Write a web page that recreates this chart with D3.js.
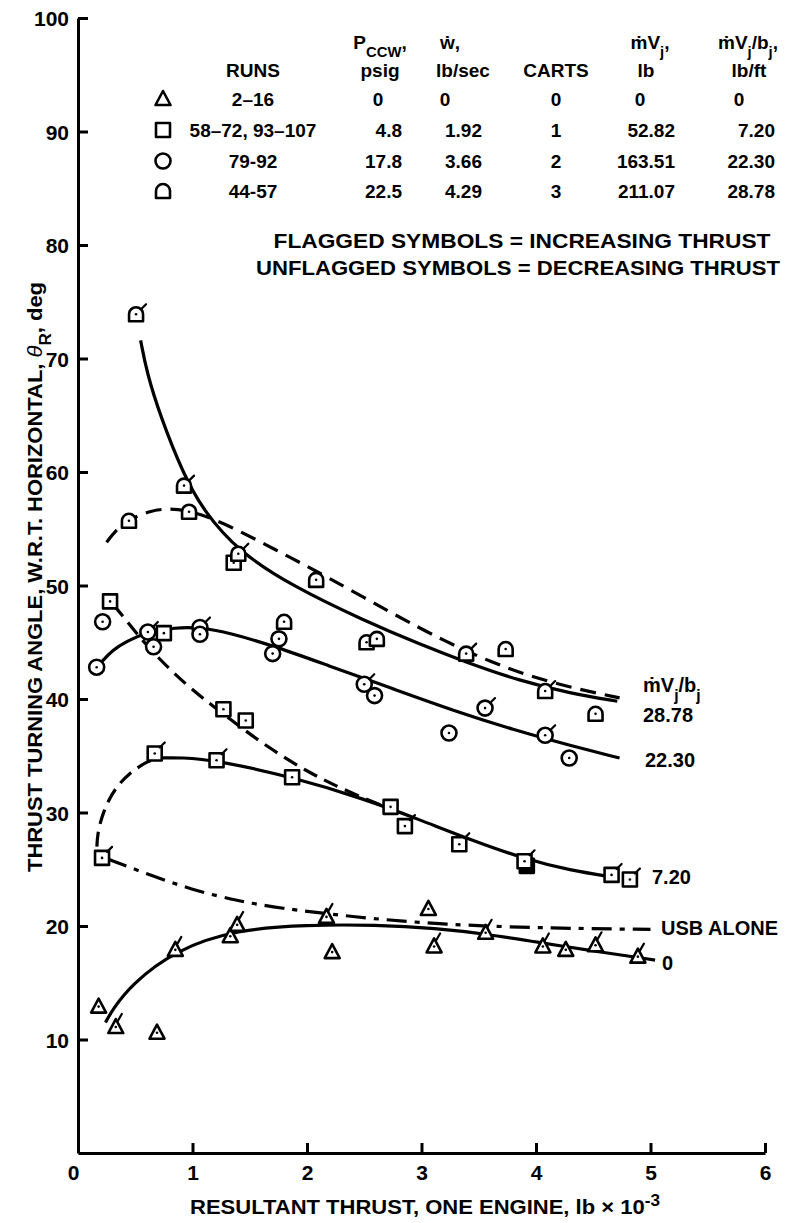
<!DOCTYPE html>
<html>
<head>
<meta charset="utf-8">
<script src="https://cdn.jsdelivr.net/npm/d3@7"></script>
<style>
  body { margin: 0; background: #fff; }
  svg { display: block; }
  text { font-family: "Liberation Sans", Arial, Helvetica, sans-serif; font-weight: bold; fill: #000; }
</style>
</head>
<body>
<svg id="chart" width="786" height="1223"></svg>
<script>
// ---- axis ticks ----
const xTicks = [0, 1, 2, 3, 4, 5, 6];
const yTicks = [10, 20, 30, 40, 50, 60, 70, 80, 90, 100];

// ---- test points: [resultant thrust (lb x 10^-3), turning angle (deg), flagged] ----
const triPts = [
  [0.18, 12.9, 0], [0.33, 11.1, 1], [0.69, 10.6, 0], [0.85, 17.9, 1], [1.33, 19.1, 0],
  [1.39, 20.1, 1], [2.17, 20.8, 1], [2.22, 17.7, 0], [3.06, 21.5, 0], [3.11, 18.2, 1],
  [3.56, 19.4, 1], [4.06, 18.2, 1], [4.26, 17.9, 0], [4.52, 18.3, 1], [4.89, 17.3, 1]
];
const sqPts = [
  [0.28, 48.6, 0], [0.75, 45.8, 0], [1.36, 52.0, 0], [1.27, 39.1, 0], [1.465, 38.1, 0],
  [0.67, 35.2, 1], [1.21, 34.6, 1], [1.87, 33.1, 0], [2.73, 30.5, 0], [2.855, 28.8, 1],
  [3.33, 27.2, 1], [3.9, 25.7, 1], [4.66, 24.5, 1], [4.82, 24.1, 1], [0.21, 26.0, 1]
];
const sqSolidPts = [[3.92, 25.3]];
const circPts = [
  [0.215, 46.8, 0], [0.61, 45.9, 1], [0.66, 44.6, 0], [1.065, 46.3, 1], [1.065, 45.7, 0],
  [0.163, 42.8, 0], [1.755, 45.3, 0], [1.70, 44.0, 0], [2.50, 41.3, 1], [2.59, 40.3, 0],
  [3.24, 37.0, 0], [3.555, 39.2, 1], [4.08, 36.8, 1], [4.29, 34.8, 0]
];
const archPts = [
  [0.507, 73.9, 1], [0.926, 58.8, 1], [0.97, 56.5, 0], [0.445, 55.7, 0], [1.40, 52.8, 1],
  [2.08, 50.5, 0], [1.80, 46.8, 0], [2.52, 45.0, 0], [2.61, 45.3, 0], [3.39, 44.0, 1],
  [3.735, 44.4, 0], [4.08, 40.7, 1], [4.52, 38.7, 0]
];

// ---- faired curves (B-spline control points) ----
const fair0 = [[0.24, 11.5], [0.3, 12.6], [0.46, 14.8], [0.85, 17.9], [1.39, 19.7], [2.0, 20.1],
  [2.6, 20.1], [3.13, 19.8], [3.56, 19.3], [4.06, 18.5], [4.5, 17.8], [5.04, 17.0]];
const fairUsb = [[0.26, 25.9], [0.6, 24.6], [0.99, 23.2], [1.4, 22.2], [1.74, 21.6], [2.4, 20.8],
  [3.19, 20.1], [4.16, 19.8], [5.0, 19.7]];
const fair720 = [[0.7, 34.8], [0.9, 34.85], [1.21, 34.6], [1.88, 33.1], [2.5, 31.2],
  [3.0, 29.3], [3.4, 27.7], [3.9, 25.9], [4.3, 24.9], [4.68, 24.3]];
const fair720Low = [[0.165, 27.0], [0.17, 28.0], [0.2, 29.4], [0.26, 31.0], [0.34, 32.3],
  [0.44, 33.4], [0.6, 34.5], [0.7, 34.8]];
const fair720High = [[0.31, 48.3], [0.4, 47.2], [0.51, 45.8], [0.69, 43.7], [0.95, 41.2], [1.15, 39.6],
  [1.33, 38.2], [1.65, 35.8], [2.0, 33.6], [2.32, 32.0], [2.73, 30.3]];
const fair2230 = [[0.2, 43.2], [0.3, 44.3], [0.425, 45.1], [0.61, 45.9], [0.85, 46.3], [1.065, 46.3],
  [1.3, 45.9], [1.735, 44.6], [2.17, 43.0], [2.75, 40.9], [3.3, 38.9], [3.8, 37.3], [4.3, 35.9], [4.73, 34.8]];
const fair2878 = [[0.547, 71.6], [0.6, 68.8], [0.716, 65.0], [0.92, 59.8], [1.095, 56.6], [1.40, 53.0],
  [1.88, 49.9], [2.5, 46.9], [2.99, 44.8], [3.4, 43.2], [3.86, 41.6], [4.3, 40.5], [4.71, 39.8]];
const fair2878Dash = [[0.25, 53.8], [0.33, 54.9], [0.445, 55.8], [0.63, 56.6], [0.8, 56.8], [0.97, 56.6],
  [1.24, 55.7], [1.735, 53.1], [2.17, 50.8], [2.75, 47.5], [3.22, 45.0],
  [3.62, 43.2], [3.95, 42.0], [4.35, 40.9], [4.73, 40.1]];

// ---- run table ----
const tableRuns = ["2\u201316", "58\u201372, 93\u2013107", "79-92", "44-57"];
const tablePccw = ["0", "4.8", "17.8", "22.5"];
const tableWdot = ["0", "1.92", "3.66", "4.29"];
const tableCarts = ["0", "1", "2", "3"];
const tableMVj = ["0", "52.82", "163.51", "211.07"];
const tableMVjB = ["0", "7.20", "22.30", "28.78"];
const tableSymbols = ["tri", "sq", "circ", "arch"];

const svg = d3.select("#chart");
const x = d3.scaleLinear().domain([0, 6]).range([78, 765]);
const y = d3.scaleLinear().domain([0, 100]).range([1153, 18]);

// ---- axes ----
const axisW = 3;
const gx = svg.append("g").attr("transform", `translate(0,${y(0)})`)
  .call(d3.axisBottom(x).tickValues(xTicks).tickFormat(d3.format("d"))
    .tickSize(-10).tickSizeOuter(0).tickPadding(12));
const gy = svg.append("g").attr("transform", `translate(${x(0)},0)`)
  .call(d3.axisLeft(y).tickValues(yTicks).tickFormat(d3.format("d"))
    .tickSize(-10).tickSizeOuter(0).tickPadding(9));
[gx, gy].forEach(g => {
  g.select(".domain").attr("stroke", "#000").attr("stroke-width", axisW);
  g.selectAll(".tick line").attr("stroke", "#000").attr("stroke-width", axisW);
  g.selectAll(".tick text").attr("font-size", 21).attr("font-family", null).attr("fill", "#000");
});
gx.select(".tick text").attr("dx", -5);
gy.selectAll(".tick text").attr("dy", "0.36em");

// rich text helper for sub/superscripts
function rich(parent, px, py, parts, size, anchor) {
  const t = parent.append("text").attr("x", px).attr("y", py)
    .attr("font-size", size).attr("text-anchor", anchor || "middle");
  parts.forEach(p => {
    const s = t.append("tspan").text(p.t);
    if (p.sub) s.attr("baseline-shift", "sub").attr("font-size", size * 0.78);
    if (p.sup) s.attr("baseline-shift", "super").attr("font-size", size * 0.78);
    if (p.it) s.attr("font-style", "italic").attr("font-weight", "normal");
  });
  return t;
}
function stretch(t, len) {
  return t.attr("textLength", len).attr("lengthAdjust", "spacingAndGlyphs");
}

// axis titles
stretch(rich(svg, 425, 1214, [{ t: "RESULTANT THRUST, ONE ENGINE, lb \u00d7 10" }, { t: "-3", sup: true }], 20), 470);
const yl = svg.append("g").attr("transform", "translate(42,577) rotate(-90)");
stretch(rich(yl, 0, 0, [{ t: "THRUST TURNING ANGLE, W.R.T. HORIZONTAL, " }, { t: "\u03b8", it: true },
  { t: "R", sub: true }, { t: ", deg" }], 20), 590);

// ---- curves ----
const line = d3.line().x(d => x(d[0])).y(d => y(d[1])).curve(d3.curveBasis);
const curves = [
  { d: fair0, dash: null },
  { d: fairUsb, dash: "20,8,5,8" },
  { d: fair720, dash: null },
  { d: fair720Low, dash: "15,8" },
  { d: fair720High, dash: "15,8" },
  { d: fair2230, dash: null },
  { d: fair2878, dash: null },
  { d: fair2878Dash, dash: "16,9" }
];
svg.append("g").selectAll("path").data(curves).join("path")
  .attr("d", c => line(c.d)).attr("fill", "none").attr("stroke", "#000")
  .attr("stroke-width", 3.2).attr("stroke-dasharray", c => c.dash);

// ---- symbols ----
const shapes = {
  tri: "M0,-8 L7.5,6 L-7.5,6 Z",
  sq: "M-7,-7 H7 V7 H-7 Z",
  circ: "M-7.5,0 A7.5,7.5 0 1 0 7.5,0 A7.5,7.5 0 1 0 -7.5,0 Z",
  arch: "M-7,7 V0 A7,7 0 0 1 7,0 V7 Z"
};
const flagLine = {
  tri: [2, -6, 6, -13],
  sq: [5, -6, 10, -11],
  circ: [5, -5, 10, -10],
  arch: [5, -5, 10, -10]
};
function drawSymbol(g, kind, flagged, solid) {
  g.append("path").attr("d", shapes[kind]).attr("fill", solid ? "#000" : "#fff")
    .attr("stroke", "#000").attr("stroke-width", 2.6).attr("stroke-linejoin", "round");
  if (!solid) g.append("circle").attr("r", 1.3).attr("fill", "#000");
  if (flagged) {
    const f = flagLine[kind];
    g.append("line").attr("x1", f[0]).attr("y1", f[1]).attr("x2", f[2]).attr("y2", f[3])
      .attr("stroke", "#000").attr("stroke-width", 2.2).attr("stroke-linecap", "round");
  }
}
function plotSet(data, kind, solid) {
  svg.append("g").selectAll("g").data(data).join("g")
    .attr("transform", d => `translate(${x(d[0])},${y(d[1])})`)
    .each(function (d) { drawSymbol(d3.select(this), kind, d[2], solid); });
}
plotSet(sqSolidPts, "sq", true);
plotSet(triPts, "tri");
plotSet(sqPts, "sq");
plotSet(circPts, "circ");
plotSet(archPts, "arch");

// ---- curve labels ----
rich(svg, 643, 692, [{ t: "\u1e41V" }, { t: "j", sub: true }, { t: "/b" }, { t: "j", sub: true }], 20, "start");
rich(svg, 643, 722, [{ t: "28.78" }], 20, "start");
rich(svg, 645, 767, [{ t: "22.30" }], 20, "start");
rich(svg, 652, 884, [{ t: "7.20" }], 20, "start");
rich(svg, 661, 935, [{ t: "USB ALONE" }], 20, "start");
rich(svg, 662, 970, [{ t: "0" }], 20, "start");

// ---- run table ----
const tb = svg.append("g");
const hdr1 = 49, hdr2 = 77;
rich(tb, 253, hdr2, [{ t: "RUNS" }], 19);
rich(tb, 380, hdr1, [{ t: "P" }, { t: "CCW", sub: true }, { t: "," }], 19);
rich(tb, 380, hdr2, [{ t: "psig" }], 19);
rich(tb, 450, hdr1, [{ t: "\u1e87," }], 19);
rich(tb, 463, hdr2, [{ t: "lb/sec" }], 19);
rich(tb, 556, hdr2, [{ t: "CARTS" }], 19);
rich(tb, 650, hdr1, [{ t: "\u1e41V" }, { t: "j", sub: true }, { t: "," }], 19);
rich(tb, 646, hdr2, [{ t: "lb" }], 19);
rich(tb, 748, hdr1, [{ t: "\u1e41V" }, { t: "j", sub: true }, { t: "/b" }, { t: "j", sub: true }, { t: "," }], 19);
rich(tb, 749, hdr2, [{ t: "lb/ft" }], 19);

const rowY = [106, 137, 168, 198];
const numCols = [
  { vals: tablePccw, right: 402, zero: 378 },
  { vals: tableWdot, right: 482, zero: 445 },
  { vals: tableMVj, right: 675, zero: 640 },
  { vals: tableMVjB, right: 775, zero: 739 }
];
rowY.forEach((ry, i) => {
  const sg = tb.append("g").attr("transform", `translate(163,${ry - 7})`);
  drawSymbol(sg, tableSymbols[i], 0);
  sg.select("circle").remove();
  rich(tb, 253, ry, [{ t: tableRuns[i] }], 19);
  rich(tb, 556, ry, [{ t: tableCarts[i] }], 19);
  numCols.forEach(c => {
    const v = c.vals[i];
    if (v === "0") rich(tb, c.zero, ry, [{ t: v }], 19);
    else rich(tb, c.right, ry, [{ t: v }], 19, "end");
  });
});

// flag notes
stretch(rich(svg, 522, 248, [{ t: "FLAGGED SYMBOLS = INCREASING THRUST" }], 20), 497);
stretch(rich(svg, 518, 275, [{ t: "UNFLAGGED SYMBOLS = DECREASING THRUST" }], 20), 524);
</script>
</body>
</html>
